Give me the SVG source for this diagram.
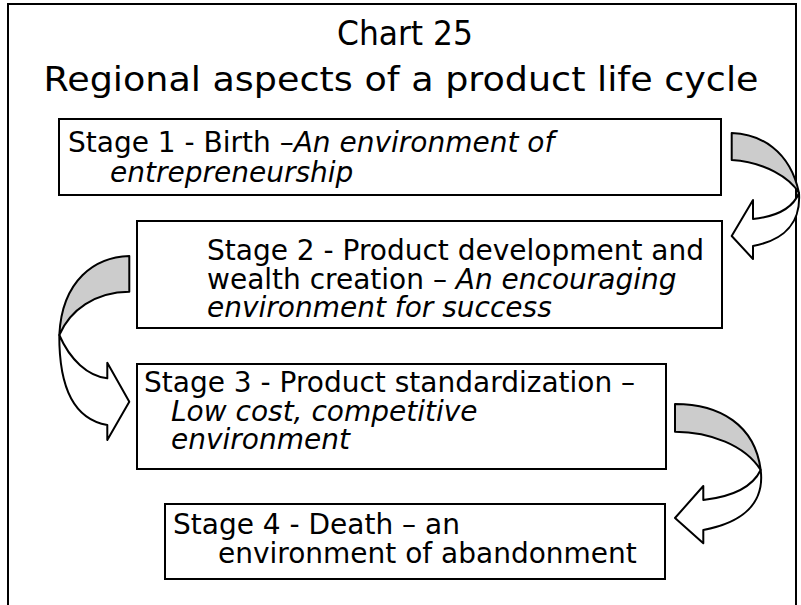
<svg xmlns="http://www.w3.org/2000/svg" width="801" height="605" viewBox="0 0 801 605">
<style>
.frame{fill:none;stroke:#000;stroke-width:2}
.box rect{fill:#fff;stroke:#000;stroke-width:2}
.t{font-family:"DejaVu Sans","Verdana",sans-serif;font-size:28px;fill:#000}
.i{font-style:italic}
.title{font-family:"DejaVu Sans","Verdana",sans-serif;font-size:33px;fill:#000}
.band{fill:#cccccc;stroke:#000;stroke-width:2;stroke-linejoin:round}
.front{fill:#fff;stroke:#000;stroke-width:2;stroke-linejoin:round}
</style>
<rect width="801" height="605" fill="#fff"/>
<path class="frame" d="M8,605 V4 H796 V605"/>
<g id="title">
<text class="title" x="405" y="45" text-anchor="middle" textLength="136" lengthAdjust="spacingAndGlyphs">Chart 25</text>
<text class="title" x="401" y="91" text-anchor="middle" textLength="715" lengthAdjust="spacingAndGlyphs">Regional aspects of a product life cycle</text>
</g>
<g id="stage1" class="box">
<rect x="59" y="119" width="662" height="76"/>
<text class="t" x="68" y="152">Stage 1 - Birth –<tspan class="i">An environment of</tspan></text>
<text class="t i" x="110" y="182">entrepreneurship</text>
</g>
<g id="stage2" class="box">
<rect x="137" y="221" width="585" height="107"/>
<text class="t" x="207" y="260">Stage 2 - Product development and</text>
<text class="t" x="207" y="289">wealth creation – <tspan class="i">An encouraging</tspan></text>
<text class="t i" x="207" y="317">environment for success</text>
</g>
<g id="stage3" class="box">
<rect x="137" y="364" width="529" height="105"/>
<text class="t" x="144" y="392">Stage 3 - Product standardization –</text>
<text class="t i" x="171" y="421">Low cost, competitive</text>
<text class="t i" x="171" y="449">environment</text>
</g>
<g id="stage4" class="box">
<rect x="165" y="504" width="500" height="75"/>
<text class="t" x="173" y="534">Stage 4 - Death – an</text>
<text class="t" x="218" y="563">environment of abandonment</text>
</g>
<g id="connectors">
<g id="arrow1">
<path class="band" d="M731.7,133 C760,134 790,150 799,193 C790,178 765,162 731.7,160 Z"/>
<path class="front" d="M799,193 C792,210 772,217 753,219 L753,200 L731.7,236 L753,259 L753,246 C785,240 801,222 799,193 Z"/>
</g>
<g id="arrow2">
<path class="band" d="M129.3,256 C95,257 62,280 59.3,335 C70,310 95,292 129.3,291.7 Z"/>
<path class="front" d="M59.3,335 C70,360 88,376 107.3,378.3 L107.3,362.7 L129.3,401.7 L107.3,440 L107.3,425 C78,420 59,395 59.3,335 Z"/>
</g>
<g id="arrow3">
<path class="band" d="M675,404 C720,404 755,425 760.7,470 C745,445 710,432 675,431.7 Z"/>
<path class="front" d="M760.7,470 C752,488 730,497 703.3,500 L703.3,486 L675,518 L703.3,543.3 L703.3,530 C740,523 765,505 760.7,470 Z"/>
</g>
</g>
</svg>
